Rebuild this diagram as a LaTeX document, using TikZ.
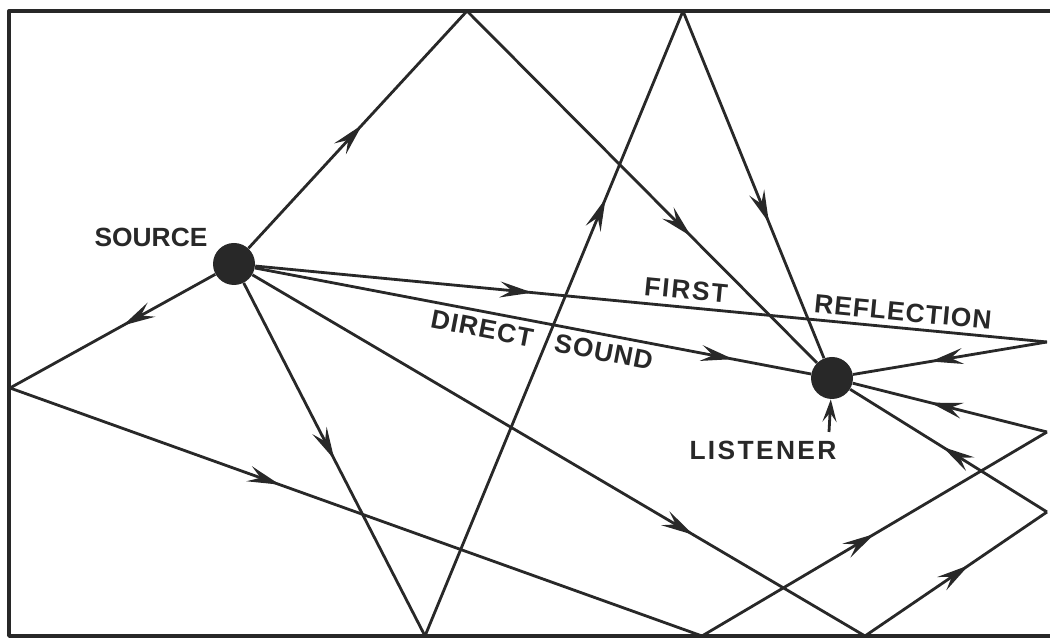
\documentclass[tikz,border=0pt]{standalone}
\usepackage{fontspec}
\newfontfamily\labfont[LetterSpace=4]{Liberation Sans Bold}
\usetikzlibrary{arrows.meta,decorations.markings}
\definecolor{ink}{RGB}{40,40,40}
\tikzset{
  ray/.style={line width=1.6pt,decoration={markings,
      mark=at position #1 with {\arrow{Stealth[length=6.5mm,width=3.2mm,inset=2.4mm]}}},
    postaction={decorate}},
  dot/.style={circle,fill=ink,inner sep=0pt,minimum size=8.4mm},
  lab/.style={font=\labfont\fontsize{15}{18}\selectfont,text=ink,inner sep=0pt},
}

\begin{document}
\begin{tikzpicture}[color=ink,line join=round]
\useasboundingbox (0,0) rectangle (21,12.8);
% room walls
\draw[line width=2.2pt] (21,12.58) -- (0.18,12.58) -- (0.18,0.08) -- (21,0.08);
% source and listener
\node[dot] (src) at (4.68,7.52) {};
\node[dot] (lis) at (16.64,5.24) {};
% points of reflection
\coordinate (t1) at (9.34,12.58);
\coordinate (t2) at (13.66,12.58);
\coordinate (w1) at (0.2,5.04);
\coordinate (b1) at (8.5,0.08);
\coordinate (b2) at (14.04,0.08);
\coordinate (b3) at (17.3,0.08);
\coordinate (r1) at (20.94,5.96);
\coordinate (r2) at (20.94,4.16);
\coordinate (r3) at (20.94,2.56);
\coordinate (stub) at (16.58,4.16);
% rays
\draw[ray=0.86] (src) -- (lis);
\draw[ray=0.35] (src) -- (r1);
\draw[ray=0.6] (r1) -- (lis);
\draw[ray=0.52] (src) -- (t1);
\draw[ray=0.64] (t1) -- (lis);
\draw[ray=0.45] (src) -- (w1);
\draw[ray=0.39] (w1) -- (b2);
\draw[ray=0.5] (b2) -- (r2);
\draw[ray=0.6] (r2) -- (lis);
\draw[ray=0.5] (src) -- (b1);
\draw[ray=0.7] (b1) -- (t2);
\draw[ray=0.61] (t2) -- (lis);
\draw[ray=0.72] (src) -- (b3);
\draw[ray=0.57] (b3) -- (r3);
\draw[ray=0.53] (r3) -- (lis);
\draw[line width=1.6pt,-{Stealth[length=4.5mm,width=2.8mm,inset=1.8mm]}] (stub) -- (lis);
% labels
\node[lab] (srclab) at (3.02,8.06) {\addfontfeature{LetterSpace=0}SOURCE};
\node[lab,rotate=-11] (dirlab) at (10.84,6.0) {DIRECT\hspace{8pt} SOUND};
\node[lab,rotate=-5.5] (firstlab) at (13.72,7.0) {\addfontfeature{LetterSpace=7}FIRST};
\node[lab,rotate=-5.5] (refllab) at (18.06,6.56) {REFLECTION};
\node[lab] (lislab) at (15.26,3.8) {\addfontfeature{LetterSpace=9}LISTENER};
\end{tikzpicture}
\end{document}
